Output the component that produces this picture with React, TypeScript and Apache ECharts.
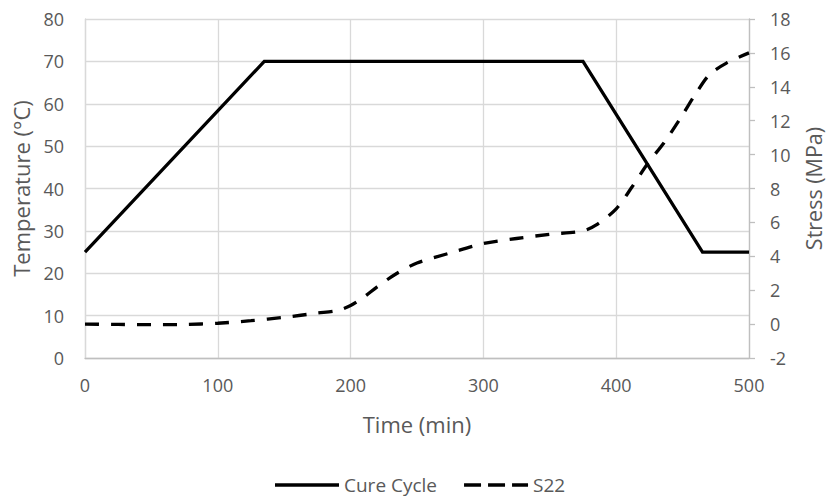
import React, { useEffect, useRef } from "react";
import * as echarts from "echarts";

const cureTime = [0, 135, 375, 465, 500];
const cureTemp = [25, 70, 70, 25, 25];

const s22Time = [0, 25, 50, 75, 100, 125, 150, 175, 190, 200, 210, 220, 235, 250, 275, 300, 325, 350, 375, 385, 400, 412, 424, 436, 448, 460, 470, 483, 500];
const s22Stress = [0, -0.02, -0.03, -0.02, 0.05, 0.2, 0.4, 0.65, 0.8, 1.1, 1.6, 2.2, 3.0, 3.6, 4.2, 4.75, 5.05, 5.3, 5.5, 5.85, 6.8, 8.1, 9.5, 10.7, 12.1, 13.6, 14.7, 15.4, 16.0];

const FONT = "'Open Sans', sans-serif";
const TXT = "#595959";

const SOLID_ICON = "path://M0,0L64,0L64,3.3L0,3.3Z";
const DASH_ICON = "path://M0,0L17,0L17,3.3L0,3.3Z M24,0L41,0L41,3.3L24,3.3Z M48,0L64,0L64,3.3L48,3.3Z";

export default function App() {
  const ref = useRef<HTMLDivElement>(null);
  useEffect(() => {
    if (!ref.current) return;
    const chart = echarts.init(ref.current, undefined, { renderer: "svg" });
    chart.setOption({
      animation: false,
      backgroundColor: "#ffffff",
      grid: { left: 85, right: 78, top: 19, bottom: 140, containLabel: false, outerBoundsMode: "none" },
      legend: {
        left: 275,
        top: 475,
        padding: 0,
        itemWidth: 64,
        itemHeight: 3.3,
        itemGap: 27,
        textStyle: { fontFamily: FONT, fontSize: 19, color: TXT, lineHeight: 20 },
        data: [
          { name: "Cure Cycle", icon: SOLID_ICON, itemStyle: { color: "#000" } },
          { name: "S22", icon: DASH_ICON, itemStyle: { color: "#000" } },
        ],
      },
      xAxis: {
        type: "value",
        min: 0,
        max: 500,
        interval: 100,
        name: "Time (min)",
        nameLocation: "middle",
        nameGap: 55,
        nameTextStyle: { fontFamily: FONT, fontSize: 22, color: TXT },
        axisLine: { show: true, lineStyle: { color: "#bfbfbf", width: 1.3 } },
        axisTick: { show: false },
        axisLabel: { fontFamily: FONT, fontSize: 18, color: TXT, margin: 18 },
        splitLine: { show: true, lineStyle: { color: "#d9d9d9", width: 1.3 } },
      },
      yAxis: [
        {
          type: "value",
          min: 0,
          max: 80,
          interval: 10,
          name: "Temperature (°C)",
          nameLocation: "middle",
          nameGap: 53,
          nameTextStyle: { fontFamily: FONT, fontSize: 22, color: TXT, lineHeight: 22 },
          axisLine: { show: true, lineStyle: { color: "#d9d9d9", width: 1.3 } },
          axisTick: { show: false },
          axisLabel: { fontFamily: FONT, fontSize: 18, color: TXT, margin: 21 },
          splitLine: { show: true, lineStyle: { color: "#d9d9d9", width: 1.3 } },
        },
        {
          type: "value",
          position: "right",
          min: -2,
          max: 18,
          interval: 2,
          name: "Stress (MPa)",
          nameLocation: "middle",
          nameGap: 54,
          nameRotate: 90,
          nameTextStyle: { fontFamily: FONT, fontSize: 21.5, color: TXT, lineHeight: 21 },
          axisLine: { show: true, lineStyle: { color: "#bfbfbf", width: 1.3 } },
          axisTick: { show: true, length: 6, lineStyle: { color: "#bfbfbf", width: 1.3 } },
          axisLabel: { fontFamily: FONT, fontSize: 18, color: TXT, margin: 21 },
          splitLine: { show: false },
        },
      ],
      series: [
        {
          name: "Cure Cycle",
          type: "line",
          yAxisIndex: 0,
          symbol: "none",
          showSymbol: false,
          data: cureTime.map((t, i) => [t, cureTemp[i]]),
          lineStyle: { color: "#000000", width: 3.3, join: "miter" },
          itemStyle: { color: "#000000" },
        },
        {
          name: "S22",
          type: "line",
          yAxisIndex: 1,
          symbol: "none",
          showSymbol: false,
          smooth: 0.3,
          data: s22Time.map((t, i) => [t, s22Stress[i]]),
          lineStyle: { color: "#000000", width: 3.3, type: [14, 12], cap: "butt" },
          itemStyle: { color: "#000000" },
        },
      ],
    });
    return () => chart.dispose();
  }, []);
  return (
    <div
      ref={ref}
      style={{ position: "fixed", left: 0, top: 0, width: 827, height: 498 }}
    />
  );
}
